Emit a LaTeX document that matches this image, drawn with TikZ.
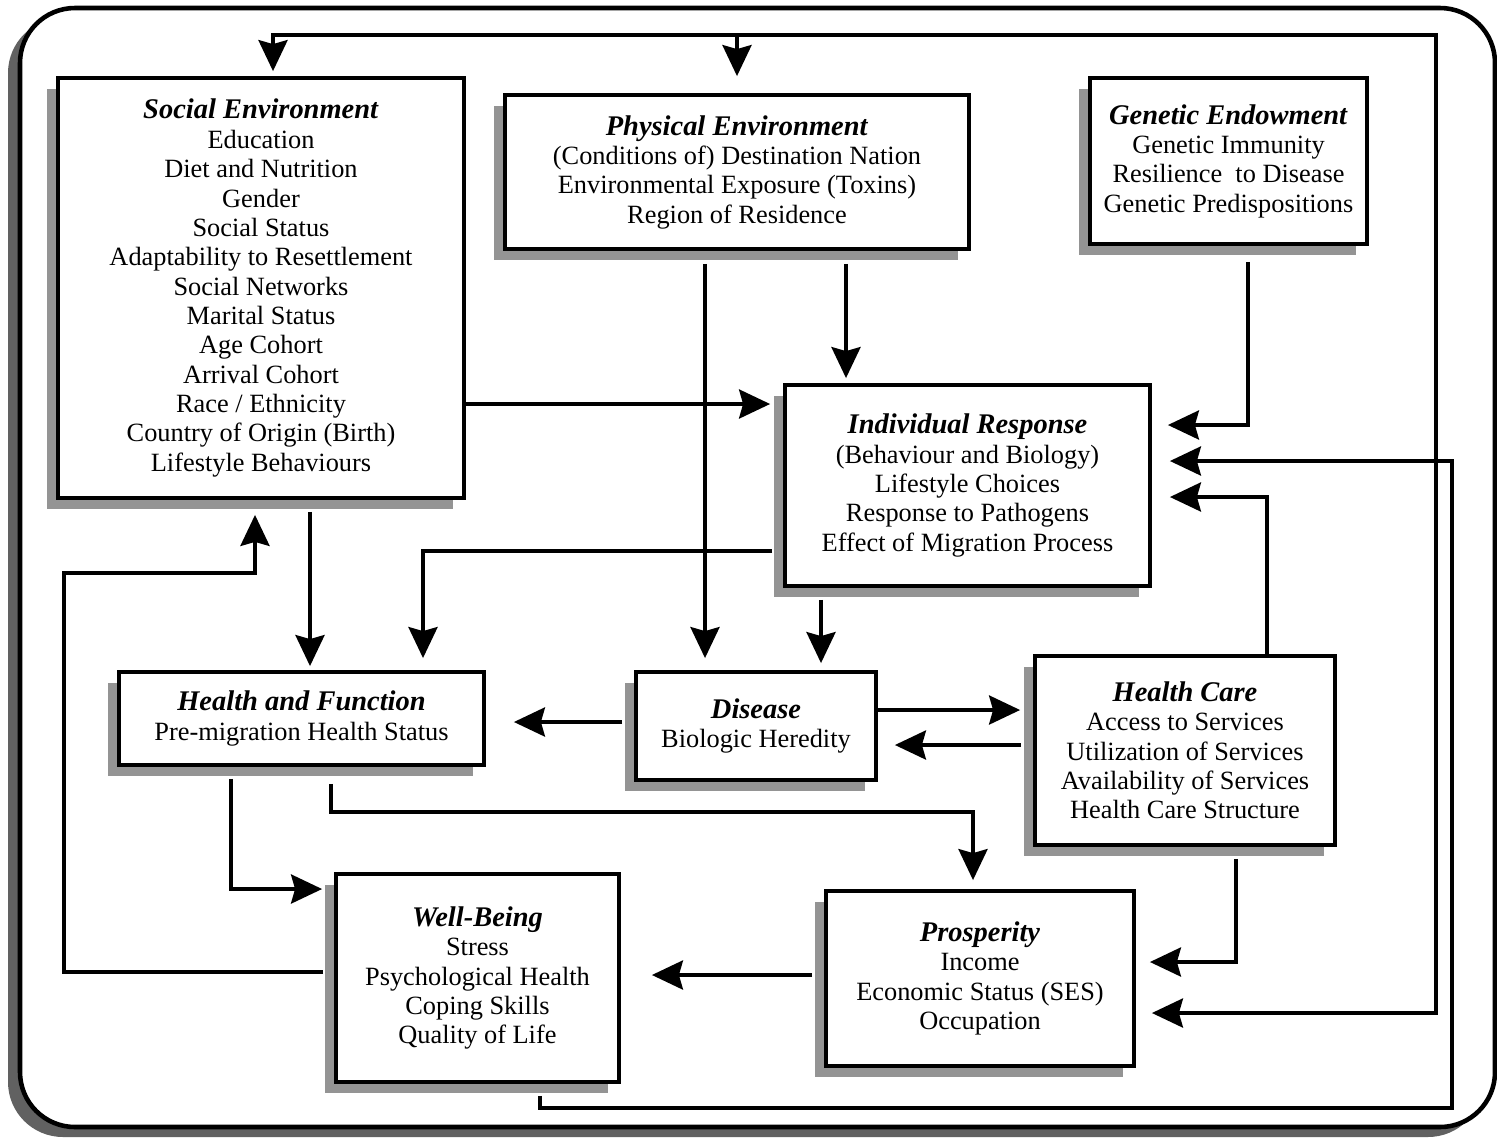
\documentclass[tikz,border=0pt]{standalone}
\usepackage{fontspec}
\setmainfont{Liberation Serif}
\usetikzlibrary{positioning,arrows.meta,shadows}
\newcommand{\boxtitle}[1]{{\fontsize{16.2}{16.7}\selectfont\textbf{\textit{#1}}}}

\begin{document}
\begin{tikzpicture}[x=0.02cm,y=-0.02cm,
  box/.style={draw,line width=2.2pt,fill=white,inner sep=0pt,align=center,
    font=\fontsize{15}{16.7}\selectfont,
    drop shadow={shadow xshift=-0.22cm,shadow yshift=-0.22cm,fill=black!42,opacity=1}},
  >={Stealth[length=0.62cm,width=0.58cm,inset=0.08cm]},
  flow/.style={line width=2.2pt,->}]
  \useasboundingbox (0,0) rectangle (1497,1137);
  % frame
  \fill[black!62,rounded corners=1.1cm] (8,18) rectangle (1483,1137);
  \draw[line width=2.6pt,fill=white,rounded corners=1.1cm] (20,8) rectangle (1495,1127);

  % boxes
  \node[box,minimum width=8.12cm,minimum height=8.4cm] (soc) at (261,288)
    {\boxtitle{Social Environment}\\Education\\Diet and Nutrition\\Gender\\Social Status\\
     Adaptability to Resettlement\\Social Networks\\Marital Status\\Age Cohort\\
     Arrival Cohort\\Race / Ethnicity\\Country of Origin (Birth)\\Lifestyle Behaviours};
  \node[box,minimum width=9.28cm,minimum height=3.08cm] (phys) at (737,172)
    {\boxtitle{Physical Environment}\\(Conditions of) Destination Nation\\
     Environmental Exposure (Toxins)\\Region of Residence};
  \node[box,minimum width=5.54cm,minimum height=3.32cm] (gen) at (1228.5,161)
    {\boxtitle{Genetic Endowment}\\Genetic Immunity\\Resilience\ \ to Disease\\Genetic Predispositions};
  \node[box,minimum width=7.3cm,minimum height=4.02cm] (ind) at (967.5,485.5)
    {\boxtitle{Individual Response}\\(Behaviour and Biology)\\Lifestyle Choices\\
     Response to Pathogens\\Effect of Migration Process};
  \node[box,minimum width=7.3cm,minimum height=1.86cm] (hf) at (301.5,718.5)
    {\boxtitle{Health and Function}\\Pre-migration Health Status};
  \node[box,minimum width=4.8cm,minimum height=2.16cm] (dis) at (756,726)
    {\boxtitle{Disease}\\Biologic Heredity};
  \node[box,minimum width=6cm,minimum height=3.78cm] (hc) at (1185,750.5)
    {\boxtitle{Health Care}\\Access to Services\\Utilization of Services\\
     Availability of Services\\Health Care Structure};
  \node[box,minimum width=5.66cm,minimum height=4.16cm] (wb) at (477.5,978)
    {\boxtitle{Well-Being}\\Stress\\Psychological Health\\Coping Skills\\Quality of Life};
  \node[box,minimum width=6.16cm,minimum height=3.5cm] (pros) at (980,978.5)
    {\boxtitle{Prosperity}\\Income\\Economic Status (SES)\\Occupation};

  % bends and ports
  \coordinate (busL) at (273,35);
  \coordinate (busR) at (1436,35);
  \coordinate (busB) at (1436,1013);
  \coordinate (loopA) at (540,1108);
  \coordinate (loopB) at (1452,461);
  \coordinate (genB) at (1248,425);
  \coordinate (pr) at (846,0);
  \coordinate (pl) at (705,0);
  \coordinate (si) at (0,404);
  \coordinate (ih) at (423,551);
  \coordinate (id) at (821,0);
  \coordinate (sh) at (310,0);
  \coordinate (dh) at (0,722);
  \coordinate (dc) at (0,710);
  \coordinate (cd) at (0,745);
  \coordinate (ci) at (1267,497);
  \coordinate (cp) at (1236,962);
  \coordinate (hw) at (231,889);
  \coordinate (hp1) at (331,812);
  \coordinate (hp2) at (973,812);
  \coordinate (ws1) at (64,972);
  \coordinate (ws2) at (255,573);
  \coordinate (pw) at (0,975);

  % connectors
  \draw[flow,<->,shorten <=0.1cm,shorten >=0.32cm] (soc.north -| busL) -- (busL) -- (busR) -- (busB) -- (pros.east |- busB);
  \draw[flow,shorten >=0.34cm] (phys.north |- busL) -- (phys.north);
  \draw[flow,shorten <=0.24cm,shorten >=0.36cm] (wb.south -| loopA) -- (loopA) -| (loopB) -- (ind.east |- loopB);
  \draw[flow,shorten <=0.32cm,shorten >=0.32cm] (gen.south -| genB) -- (genB) -- (ind.east |- genB);
  \draw[flow,shorten <=0.26cm,shorten >=0.1cm] (phys.south -| pr) -- (ind.north -| pr);
  \draw[flow,shorten <=0.26cm,shorten >=0.24cm] (phys.south -| pl) -- (dis.north -| pl);
  \draw[flow,shorten >=0.26cm] (soc.east |- si) -- (ind.west |- si);
  \draw[flow,shorten <=0.22cm,shorten >=0.24cm] (ind.west |- ih) -| (hf.north -| ih);
  \draw[flow,shorten <=0.24cm,shorten >=0.14cm] (ind.south -| id) -- (dis.north -| id);
  \draw[flow,shorten <=0.24cm,shorten >=0.08cm] (soc.south -| sh) -- (hf.north -| sh);
  \draw[flow,shorten <=0.24cm,shorten >=0.56cm] (dis.west |- dh) -- (hf.east |- dh);
  \draw[flow,shorten >=0.26cm] (dis.east |- dc) -- (hc.west |- dc);
  \draw[flow,shorten <=0.24cm,shorten >=0.34cm] (hc.west |- cd) -- (dis.east |- cd);
  \draw[flow,shorten >=0.36cm] (hc.north -| ci) -- (ci) -- (ind.east |- ci);
  \draw[flow,shorten <=0.24cm,shorten >=0.28cm] (hc.south -| cp) -- (cp) -- (pros.east |- cp);
  \draw[flow,shorten <=0.24cm,shorten >=0.24cm] (hf.south -| hw) -- (hw) -- (wb.west |- hw);
  \draw[flow,shorten <=0.34cm,shorten >=0.18cm] (hf.south -| hp1) -- (hp1) -- (hp2) -- (pros.north -| hp2);
  \draw[flow,shorten <=0.22cm,shorten >=0.3cm] (wb.west |- ws1) -- (ws1) |- (ws2) -- (soc.south -| ws2);
  \draw[flow,shorten <=0.24cm,shorten >=0.62cm] (pros.west |- pw) -- (wb.east |- pw);
\end{tikzpicture}
\end{document}
